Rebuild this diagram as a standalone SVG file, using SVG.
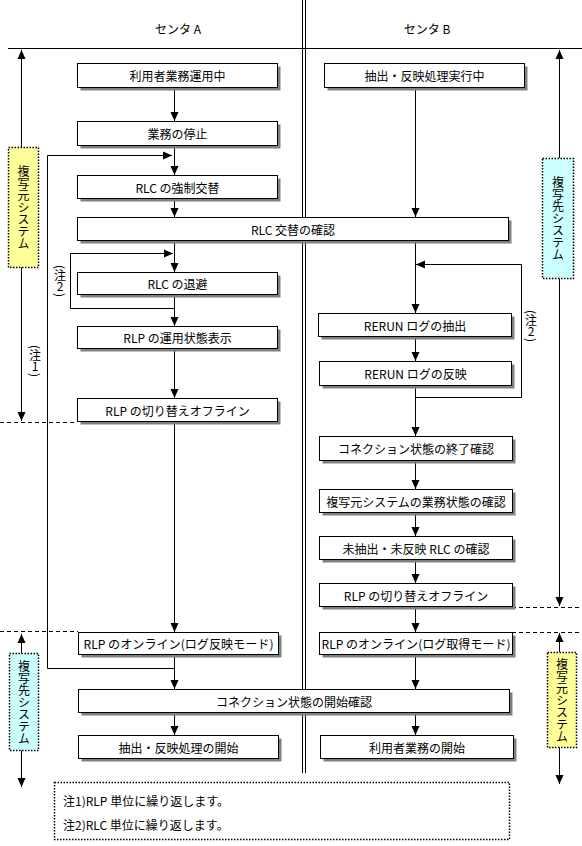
<svg xmlns="http://www.w3.org/2000/svg" width="582" height="846" viewBox="0 0 582 846">
<style>
text{font-family:"Noto Sans CJK JP","Liberation Sans",sans-serif;font-size:12px;fill:#000}
.box rect.s{fill:#808080}
.box rect.b{fill:#fff;stroke:#000;stroke-width:1}
.box text{text-anchor:middle;dominant-baseline:central}
.ln{fill:none;stroke:#000;stroke-width:1}
.ar{marker-end:url(#ah)}
.dash{stroke:#000;stroke-width:1;stroke-dasharray:4,3;fill:none}
.vt{writing-mode:vertical-rl;text-anchor:middle}
.lbl rect{stroke:#000;stroke-width:1.5;stroke-dasharray:1.5,1.5}
.yel{fill:#ffff99}
.cyn{fill:#ccffff}
</style>
<defs>
<marker id="ah" markerUnits="userSpaceOnUse" markerWidth="10" markerHeight="10" refX="9" refY="4.5" orient="auto" viewBox="0 0 10 10">
<path d="M0,0.5 L9,4.5 L0,8.5 z" fill="#000"/>
</marker>
</defs>
<rect width="582" height="846" fill="#fff"/>

<g id="header">
<text x="178" y="34" text-anchor="middle">センタ A</text>
<text x="427" y="34" text-anchor="middle">センタ B</text>
<line class="ln" x1="8" y1="48.5" x2="582" y2="48.5"/>
<line class="ln" x1="302.5" y1="0" x2="302.5" y2="773"/>
<line class="ln" x1="305.5" y1="0" x2="305.5" y2="773"/>
</g>

<g id="connectors">
<!-- left main flow -->
<line class="ln ar" x1="174.5" y1="87" x2="174.5" y2="121"/>
<line class="ln ar" x1="174.5" y1="145" x2="174.5" y2="175"/>
<line class="ln ar" x1="174.5" y1="198" x2="174.5" y2="217"/>
<line class="ln ar" x1="174.5" y1="240" x2="174.5" y2="272"/>
<line class="ln ar" x1="174.5" y1="294" x2="174.5" y2="326"/>
<line class="ln ar" x1="174.5" y1="348" x2="174.5" y2="398"/>
<line class="ln ar" x1="174.5" y1="421" x2="174.5" y2="632"/>
<line class="ln ar" x1="174.5" y1="654" x2="174.5" y2="689"/>
<line class="ln ar" x1="174.5" y1="712" x2="174.5" y2="735"/>
<polyline class="ln ar" points="174.5,308.5 70.5,308.5 70.5,253.5 173,253.5"/>
<polyline class="ln ar" points="174.5,668.5 47.5,668.5 47.5,155.5 172,155.5"/>
<!-- right main flow -->
<line class="ln ar" x1="415.5" y1="87" x2="415.5" y2="217"/>
<line class="ln ar" x1="415.5" y1="240" x2="415.5" y2="313"/>
<line class="ln ar" x1="415.5" y1="336" x2="415.5" y2="361"/>
<line class="ln ar" x1="415.5" y1="385" x2="415.5" y2="436"/>
<line class="ln ar" x1="415.5" y1="460" x2="415.5" y2="489"/>
<line class="ln ar" x1="415.5" y1="512" x2="415.5" y2="536"/>
<line class="ln ar" x1="415.5" y1="559" x2="415.5" y2="583"/>
<line class="ln ar" x1="415.5" y1="606" x2="415.5" y2="632"/>
<line class="ln ar" x1="415.5" y1="654" x2="415.5" y2="689"/>
<line class="ln ar" x1="415.5" y1="712" x2="415.5" y2="735"/>
<polyline class="ln ar" points="415.5,397.5 521.5,397.5 521.5,264.5 416,264.5"/>
<!-- side range arrows -->
<line class="ln ar" x1="21.5" y1="147" x2="21.5" y2="50"/>
<line class="ln ar" x1="21.5" y1="267" x2="21.5" y2="421"/>
<line class="ln ar" x1="21.5" y1="653" x2="21.5" y2="634"/>
<line class="ln ar" x1="21.5" y1="750" x2="21.5" y2="787"/>
<line class="ln ar" x1="559.5" y1="158" x2="559.5" y2="50"/>
<line class="ln ar" x1="559.5" y1="278" x2="559.5" y2="606"/>
<line class="ln ar" x1="559.5" y1="652" x2="559.5" y2="633"/>
<line class="ln ar" x1="559.5" y1="747" x2="559.5" y2="784"/>
<!-- phase boundaries -->
<line class="dash" x1="0" y1="422.5" x2="77" y2="422.5"/>
<line class="dash" x1="0" y1="631.5" x2="78" y2="631.5"/>
<line class="dash" x1="512" y1="607.5" x2="582" y2="607.5"/>
<line class="dash" x1="512" y1="632.5" x2="582" y2="632.5"/>
</g>

<g id="n_L1" class="box"><rect class="s" x="80.5" y="66.5" width="200" height="24"/><rect class="b" x="77.5" y="63.5" width="200" height="24"/><text x="177.5" y="75.5">利用者業務運用中</text></g>
<g id="n_L2" class="box"><rect class="s" x="80.5" y="124.5" width="200" height="24"/><rect class="b" x="77.5" y="121.5" width="200" height="24"/><text x="177.5" y="133.5">業務の停止</text></g>
<g id="n_L3" class="box"><rect class="s" x="80.5" y="178.5" width="200" height="23"/><rect class="b" x="77.5" y="175.5" width="200" height="23"/><text x="177.5" y="187">RLC の強制交替</text></g>
<g id="n_W1" class="box"><rect class="s" x="80.5" y="220.5" width="431" height="23"/><rect class="b" x="77.5" y="217.5" width="431" height="23"/><text x="293" y="229">RLC 交替の確認</text></g>
<g id="n_L4" class="box"><rect class="s" x="80.5" y="275.5" width="200" height="22"/><rect class="b" x="77.5" y="272.5" width="200" height="22"/><text x="177.5" y="283.5">RLC の退避</text></g>
<g id="n_L5" class="box"><rect class="s" x="80.5" y="329.5" width="200" height="22"/><rect class="b" x="77.5" y="326.5" width="200" height="22"/><text x="177.5" y="337.5">RLP の運用状態表示</text></g>
<g id="n_L6" class="box"><rect class="s" x="80.5" y="401.5" width="200" height="23"/><rect class="b" x="77.5" y="398.5" width="200" height="23"/><text x="177.5" y="410">RLP の切り替えオフライン</text></g>
<g id="n_L7" class="box"><rect class="s" x="81.5" y="635.5" width="200" height="22"/><rect class="b" x="78.5" y="632.5" width="200" height="22"/><text x="178.5" y="643.5" textLength="190" lengthAdjust="spacingAndGlyphs">RLP のオンライン(ログ反映モード)</text></g>
<g id="n_W2" class="box"><rect class="s" x="81.5" y="692.5" width="431" height="23"/><rect class="b" x="78.5" y="689.5" width="431" height="23"/><text x="294" y="701">コネクション状態の開始確認</text></g>
<g id="n_L8" class="box"><rect class="s" x="81.5" y="738.5" width="200" height="23"/><rect class="b" x="78.5" y="735.5" width="200" height="23"/><text x="178.5" y="747">抽出・反映処理の開始</text></g>

<g id="n_R1" class="box"><rect class="s" x="327.5" y="66.5" width="200" height="24"/><rect class="b" x="324.5" y="63.5" width="200" height="24"/><text x="424.5" y="75.5">抽出・反映処理実行中</text></g>
<g id="n_R2" class="box"><rect class="s" x="321.5" y="316.5" width="193" height="23"/><rect class="b" x="318.5" y="313.5" width="193" height="23"/><text x="415" y="325">RERUN ログの抽出</text></g>
<g id="n_R3" class="box"><rect class="s" x="322.5" y="364.5" width="192" height="24"/><rect class="b" x="319.5" y="361.5" width="192" height="24"/><text x="415.5" y="373.5">RERUN ログの反映</text></g>
<g id="n_R4" class="box"><rect class="s" x="322.5" y="439.5" width="193" height="24"/><rect class="b" x="319.5" y="436.5" width="193" height="24"/><text x="416" y="448.5">コネクション状態の終了確認</text></g>
<g id="n_R5" class="box"><rect class="s" x="322.5" y="492.5" width="193" height="23"/><rect class="b" x="319.5" y="489.5" width="193" height="23"/><text x="416" y="501">複写元システムの業務状態の確認</text></g>
<g id="n_R6" class="box"><rect class="s" x="322.5" y="539.5" width="193" height="23"/><rect class="b" x="319.5" y="536.5" width="193" height="23"/><text x="416" y="548">未抽出・未反映 RLC の確認</text></g>
<g id="n_R7" class="box"><rect class="s" x="322.5" y="586.5" width="193" height="23"/><rect class="b" x="319.5" y="583.5" width="193" height="23"/><text x="416" y="595">RLP の切り替えオフライン</text></g>
<g id="n_R8" class="box"><rect class="s" x="322.5" y="635.5" width="193" height="22"/><rect class="b" x="319.5" y="632.5" width="193" height="22"/><text x="416" y="643.5" textLength="189" lengthAdjust="spacingAndGlyphs">RLP のオンライン(ログ取得モード)</text></g>
<g id="n_R9" class="box"><rect class="s" x="323.5" y="738.5" width="193" height="23"/><rect class="b" x="320.5" y="735.5" width="193" height="23"/><text x="417" y="747">利用者業務の開始</text></g>

<g id="lbl_src_top" class="lbl"><rect class="yel" x="8.5" y="147.5" width="30" height="120"/><text class="vt" x="23.5" y="207">複写元システム</text></g>
<g id="lbl_dst_top" class="lbl"><rect class="cyn" x="542.5" y="158.5" width="31" height="120"/><text class="vt" x="558" y="218">複写先システム</text></g>
<g id="lbl_dst_bot" class="lbl"><rect class="cyn" x="9.5" y="653.5" width="29" height="97"/><text class="vt" x="24" y="702">複写先システム</text></g>
<g id="lbl_src_bot" class="lbl"><rect class="yel" x="547.5" y="652.5" width="29" height="95"/><text class="vt" x="562" y="700">複写元システム</text></g>

<g id="notes_inline">
<text class="vt" x="35" y="361">(注<tspan style="text-orientation:upright">1</tspan>)</text>
<text class="vt" x="60" y="281">(注<tspan style="text-orientation:upright">2</tspan>)</text>
<text class="vt" x="531" y="326">(注<tspan style="text-orientation:upright">2</tspan>)</text>
</g>

<g id="notes">
<rect x="54.5" y="782.5" width="455" height="57" fill="#fff" stroke="#000" stroke-width="1.5" stroke-dasharray="1.5,1.5"/>
<text x="63" y="806">注1)RLP 単位に繰り返します。</text>
<text x="63" y="830">注2)RLC 単位に繰り返します。</text>
</g>
</svg>
